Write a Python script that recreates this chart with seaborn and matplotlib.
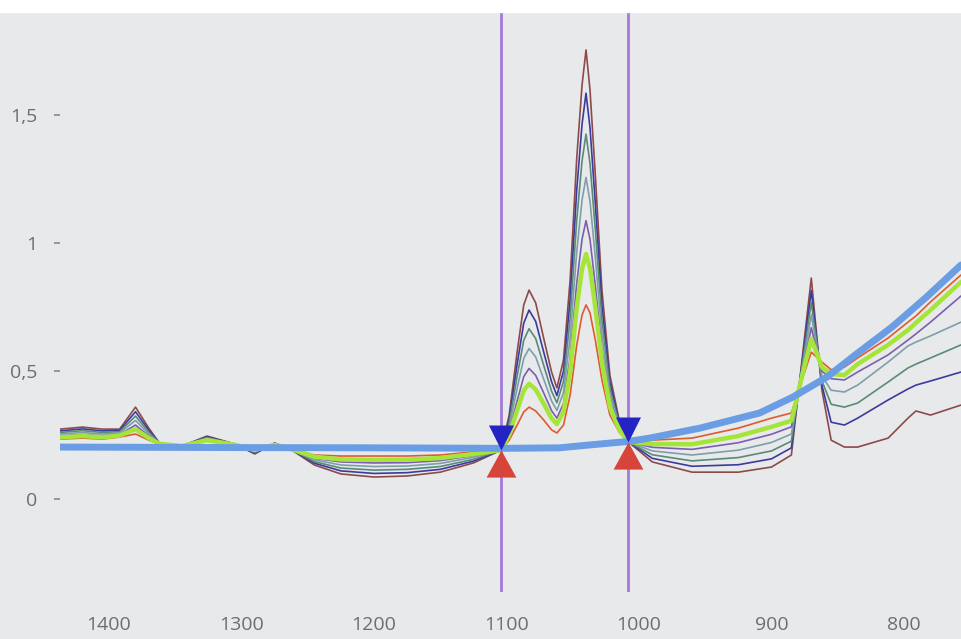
"""IR spectra overlay with integration markers (screen photo remake)."""
import matplotlib
matplotlib.use("Agg")
import matplotlib.pyplot as plt
from matplotlib.patches import Rectangle
import seaborn as sns

# wavenumber grid shared by all spectra (cm-1)
wn = [1437, 1420, 1405, 1392, 1380, 1370, 1362, 1345, 1326, 1305, 1290, 1275,
      1262, 1245, 1225, 1200, 1175, 1150, 1125, 1104,
      1098, 1092, 1087, 1083, 1078, 1072, 1066, 1062, 1057, 1052, 1047, 1043,
      1040, 1037, 1033, 1028, 1022, 1015, 1008,
      990, 960, 925, 900, 885, 877, 870, 862, 855, 845, 835, 812, 797, 791, 780, 757]

brown = [.273, .281, .273, .273, .359, .277, .219, .207, .246, .215, .176, .219,
         .191, .133, .098, .086, .090, .105, .141, .191,
         .328, .574, .758, .816, .766, .629, .496, .434, .543, .855, 1.332, 1.617,
         1.754, 1.598, 1.266, .816, .484, .309, .223,
         .145, .105, .105, .125, .172, .543, .863, .426, .230, .203, .203, .238, .316, .344, .328, .367]
navy = [.266, .274, .266, .268, .341, .269, .218, .207, .243, .214, .179, .218,
        .192, .140, .110, .100, .103, .116, .148, .191,
        .311, .526, .687, .738, .694, .575, .458, .404, .500, .779, 1.208, 1.464,
        1.585, 1.450, 1.156, .756, .457, .301, .223,
        .159, .128, .134, .157, .200, .530, .814, .445, .300, .289, .316, .387, .430, .445, .461, .496]
teal = [.260, .267, .260, .263, .324, .261, .218, .207, .240, .214, .182, .216,
        .192, .146, .121, .113, .116, .127, .155, .191,
        .296, .480, .620, .665, .627, .523, .421, .376, .459, .707, 1.091, 1.321,
        1.425, 1.311, 1.053, .700, .433, .293, .223,
        .173, .149, .162, .188, .226, .517, .768, .462, .370, .359, .375, .457, .512, .527, .551, .602]
gray = [.254, .260, .254, .258, .307, .254, .217, .207, .237, .213, .186, .215,
        .193, .153, .133, .127, .129, .139, .163, .191,
        .279, .432, .549, .588, .555, .469, .383, .346, .416, .631, .967, 1.168,
        1.256, 1.163, .944, .641, .406, .286, .223,
        .188, .172, .191, .221, .254, .504, .719, .481, .425, .418, .445, .535, .598, .613, .637, .691]
purple = [.247, .252, .247, .252, .289, .246, .216, .207, .233, .212, .189, .214,
          .194, .159, .145, .141, .142, .150, .170, .191,
          .262, .383, .478, .510, .483, .415, .345, .316, .373, .554, .843, 1.015,
          1.087, 1.014, .834, .581, .379, .278, .223,
          .202, .194, .220, .253, .282, .491, .669, .499, .470, .465, .496, .563, .621, .645, .691, .793]
lime = [.241, .246, .241, .248, .273, .238, .216, .207, .230, .212, .192, .212,
        .194, .165, .155, .153, .154, .160, .176, .191,
        .250, .346, .424, .450, .428, .373, .315, .293, .340, .496, .748, .899,
        .957, .901, .750, .535, .359, .271, .223,
        .215, .214, .246, .282, .306, .479, .626, .515, .488, .484, .527, .602, .660, .688, .738, .848]
orange = [.234, .238, .234, .242, .254, .230, .215, .207, .227, .211, .195, .211,
          .195, .172, .168, .168, .168, .172, .184, .191,
          .230, .289, .340, .359, .344, .309, .270, .258, .289, .406, .602, .719,
          .758, .727, .621, .465, .328, .262, .223,
          .230, .238, .277, .316, .336, .465, .574, .535, .505, .515, .551, .629, .691, .715, .770, .875]

# reference (baseline) spectrum
base_wn = [1437, 1300, 1200, 1104, 1060, 1040, 1008, 992, 954, 909, 884, 858,
           835, 809, 783, 757]
base_val = [.203, .201, .200, .198, .200, .210, .225, .238, .277, .336, .398,
            .477, .570, .672, .789, .914]

# integration limits
mark_wn = [1104, 1008]
mark_val = [.191, .221]

x_ticks = [1400, 1300, 1200, 1100, 1000, 900, 800]
y_ticks = [0, 0.5, 1, 1.5]
y_labels = ["0", "0,5", "1", "1,5"]

BG = "#e8e9ea"
TXT = "#6e6e6e"

sns.set_theme(style="white")
plt.rcParams["font.family"] = ["Open Sans", "DejaVu Sans"]

fig = plt.figure(figsize=(9.61, 6.39), dpi=100)
fig.patch.set_facecolor(BG)
ax = fig.add_axes([60 / 961, 1 - 592 / 639, 1 - 60 / 961, 580 / 639])
ax.set_facecolor(BG)

# limit lines
for x in mark_wn:
    ax.axvline(x, color="#a27ad8", lw=2, zorder=1)

# spectra
spectra = [
    (brown, "#8c4a4a", 1.2),
    (navy, "#3b3b9e", 1.2),
    (teal, "#5a8a78", 1.2),
    (gray, "#7f9eab", 1.2),
    (purple, "#7a5fb0", 1.2),
    (orange, "#e05a2c", 1.2),
    (lime, "#a5e53a", 3.2),
]
for vals, col, lw in spectra:
    sns.lineplot(x=wn, y=vals, color=col, lw=lw, sort=False, ax=ax, zorder=2,
                 solid_joinstyle="round")

sns.lineplot(x=base_wn, y=base_val, color="#6a9de4", lw=5, sort=False, ax=ax,
             zorder=3, solid_capstyle="round")

# triangle markers (tip at the data point)
ax.plot(mark_wn, mark_val, ls="none", marker=[(0, 0), (-0.5, 1), (0.5, 1)],
        ms=36, color="#2424c4", mec="none", zorder=5)
ax.plot(mark_wn, mark_val, ls="none", marker=[(0, 0), (-0.55, -1), (0.55, -1)],
        ms=39, color="#d6443a", mec="none", zorder=5)

ax.set_xlim(1437, 757)
ax.set_ylim(-0.363, 1.902)
ax.set_xticks(x_ticks)
ax.set_xticklabels([str(v) for v in x_ticks])
ax.set_yticks(y_ticks)
ax.set_yticklabels(y_labels)
ax.tick_params(axis="y", left=True, length=4.5, width=1.2, color="#8a8a8a",
               pad=12, labelsize=14, labelcolor=TXT, direction="out")
ax.tick_params(axis="x", bottom=True, length=0, pad=17, labelsize=14,
               labelcolor=TXT)
ax.set_xlabel("")
ax.set_ylabel("")
for s in ax.spines.values():
    s.set_visible(False)

# white strip at the top of the photo
fig.add_artist(Rectangle((0, 1 - 12 / 639), 1, 12 / 639,
                         transform=fig.transFigure, color="white", zorder=10))

fig.savefig("out.png", dpi=100, facecolor=fig.get_facecolor())
plt.close(fig)
